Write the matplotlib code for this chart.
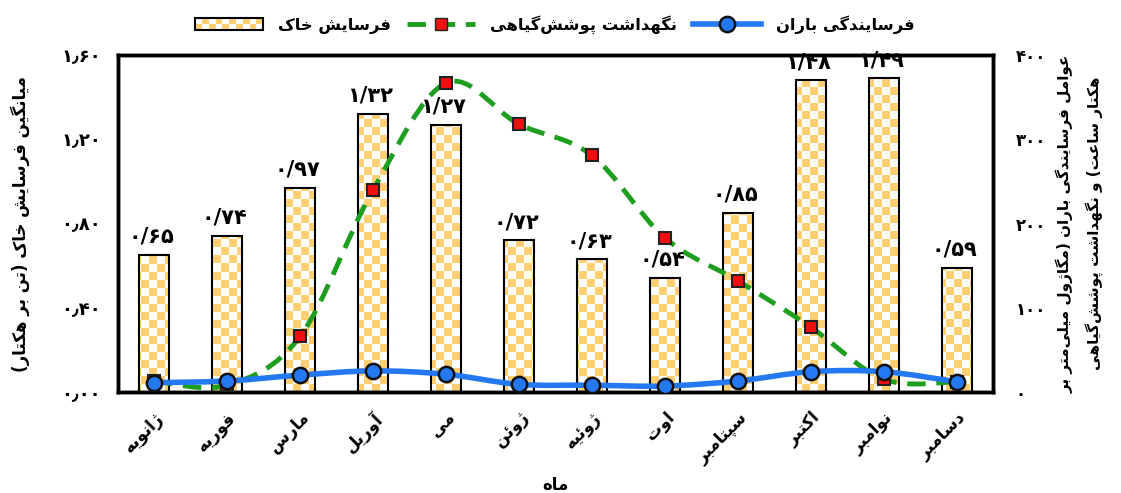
import numpy as np
import matplotlib
matplotlib.use('Agg')
import matplotlib.pyplot as plt
from matplotlib.colors import ListedColormap
from matplotlib.patches import Rectangle, PathPatch
from matplotlib.path import Path
from matplotlib.lines import Line2D
from matplotlib.legend_handler import HandlerBase

plt.rcParams['font.family'] = ['DejaVu Sans']
plt.rcParams['font.weight'] = 'bold'

months = ['ژانویه', 'فوریه', 'مارس', 'آوریل', 'می', 'ژوئن', 'ژوئیه', 'اوت',
          'سپتامبر', 'اکتبر', 'نوامبر', 'دسامبر']
soil_loss = [0.65, 0.74, 0.97, 1.32, 1.27, 0.72, 0.63, 0.54, 0.85, 1.48, 1.49, 0.59]
rain_erosivity = [11, 13, 20, 25, 21, 9, 8, 7, 13, 24, 24, 12]
cover_mgmt = [13, 8, 66, 240, 367, 318, 281, 183, 132, 77, 15, 12]
left_ticks = [0.0, 0.4, 0.8, 1.2, 1.6]
right_ticks = [0, 100, 200, 300, 400]

CHECK = '#FFCF72'
GREEN = '#1E9E1E'
BLUE = '#2479F2'

# minimal Persian shaping: (isolated, final, initial, medial)
FORMS = {
    'ا': ('\uFE8D', '\uFE8E', None, None), 'آ': ('\uFE81', '\uFE82', None, None),
    'ب': ('\uFE8F', '\uFE90', '\uFE91', '\uFE92'), 'پ': ('\uFB56', '\uFB57', '\uFB58', '\uFB59'),
    'ت': ('\uFE95', '\uFE96', '\uFE97', '\uFE98'), 'ث': ('\uFE99', '\uFE9A', '\uFE9B', '\uFE9C'),
    'ج': ('\uFE9D', '\uFE9E', '\uFE9F', '\uFEA0'), 'چ': ('\uFB7A', '\uFB7B', '\uFB7C', '\uFB7D'),
    'ح': ('\uFEA1', '\uFEA2', '\uFEA3', '\uFEA4'), 'خ': ('\uFEA5', '\uFEA6', '\uFEA7', '\uFEA8'),
    'د': ('\uFEA9', '\uFEAA', None, None), 'ذ': ('\uFEAB', '\uFEAC', None, None),
    'ر': ('\uFEAD', '\uFEAE', None, None), 'ز': ('\uFEAF', '\uFEB0', None, None),
    'ژ': ('\uFB8A', '\uFB8B', None, None),
    'س': ('\uFEB1', '\uFEB2', '\uFEB3', '\uFEB4'), 'ش': ('\uFEB5', '\uFEB6', '\uFEB7', '\uFEB8'),
    'ع': ('\uFEC9', '\uFECA', '\uFECB', '\uFECC'), 'ف': ('\uFED1', '\uFED2', '\uFED3', '\uFED4'),
    'ک': ('\uFB8E', '\uFB8F', '\uFB90', '\uFB91'), 'گ': ('\uFB92', '\uFB93', '\uFB94', '\uFB95'),
    'ل': ('\uFEDD', '\uFEDE', '\uFEDF', '\uFEE0'), 'م': ('\uFEE1', '\uFEE2', '\uFEE3', '\uFEE4'),
    'ن': ('\uFEE5', '\uFEE6', '\uFEE7', '\uFEE8'), 'ه': ('\uFEE9', '\uFEEA', '\uFEEB', '\uFEEC'),
    'و': ('\uFEED', '\uFEEE', None, None), 'ئ': ('\uFE89', '\uFE8A', '\uFE8B', '\uFE8C'),
    'ی': ('\uFBFC', '\uFBFD', '\uFBFE', '\uFBFF'),
}


def fa(text):
    out = []
    for i, c in enumerate(text):
        if c not in FORMS:
            if c != '\u200c':
                out.append(c)
            continue
        prev = text[i - 1] if i > 0 else None
        nxt = text[i + 1] if i + 1 < len(text) else None
        jp = prev in FORMS and FORMS[prev][2] is not None
        jn = nxt in FORMS and FORMS[c][2] is not None
        iso, fin, ini, med = FORMS[c]
        out.append(med if jp and jn else fin if jp else ini if jn else iso)
    return ''.join(out)[::-1].translate(str.maketrans('()', ')('))


def fa_num(s):
    return s.translate(str.maketrans('0123456789.', '۰۱۲۳۴۵۶۷۸۹٫'))


def smooth_path(xs, ys):
    pts = list(zip(xs, ys))
    verts = [pts[0]]
    codes = [Path.MOVETO]
    n = len(pts)
    for i in range(n - 1):
        p0 = pts[max(i - 1, 0)]
        p1 = pts[i]
        p2 = pts[i + 1]
        p3 = pts[min(i + 2, n - 1)]
        c1 = (p1[0] + (p2[0] - p0[0]) / 6, p1[1] + (p2[1] - p0[1]) / 6)
        c2 = (p2[0] - (p3[0] - p1[0]) / 6, p2[1] - (p3[1] - p1[1]) / 6)
        verts += [c1, c2, p2]
        codes += [Path.CURVE4] * 3
    return Path(verts, codes)


class HandlerChecker(HandlerBase):
    def create_artists(self, legend, orig_handle, xdescent, ydescent,
                       width, height, fontsize, trans):
        arts = []
        nx, ny = 10, 2
        cw, ch = width / nx, height / ny
        for i in range(nx):
            for j in range(ny):
                if (i + j) % 2 == 0:
                    arts.append(Rectangle((-xdescent + i * cw, -ydescent + j * ch), cw, ch,
                                          facecolor=CHECK, edgecolor='none', transform=trans))
        arts.append(Rectangle((-xdescent, -ydescent), width, height, facecolor='none',
                              edgecolor='black', lw=1.5, transform=trans))
        return arts


fig = plt.figure(figsize=(11.21, 4.93), dpi=100)
ax = fig.add_axes([0.105, 0.205, 0.781, 0.683])
ax2 = ax.twinx()

x = np.arange(len(months))
bars = ax.bar(x, soil_loss, width=0.41, facecolor='none', edgecolor='black',
              linewidth=1.5, zorder=3)

checker = np.indices((42, 110)).sum(axis=0) % 2
for b in bars:
    im = ax.imshow(checker, cmap=ListedColormap(['white', CHECK]), extent=[0, 1, 0, 1],
                   transform=ax.transAxes, aspect='auto', interpolation='nearest', zorder=2)
    im.set_clip_path(b)

ax.set_xlim(-0.5, len(months) - 0.5)
ax.set_ylim(0, 1.6)
ax2.set_ylim(0, 400)

ax2.add_patch(PathPatch(smooth_path(x, cover_mgmt), facecolor='none', edgecolor=GREEN,
                        linewidth=3.5, linestyle=(0, (3.8, 2.2)), zorder=3))
ax2.plot(x, cover_mgmt, linestyle='none', marker='s', markersize=8,
         markerfacecolor='#F01010', markeredgecolor='#222222', markeredgewidth=1.5, zorder=4)
ax2.add_patch(PathPatch(smooth_path(x, rain_erosivity), facecolor='none', edgecolor=BLUE,
                        linewidth=4, zorder=5))
ax2.plot(x, rain_erosivity, linestyle='none', marker='o', markersize=11,
         markerfacecolor=BLUE, markeredgecolor='#111111', markeredgewidth=1.8, zorder=6)

for xi, v in zip(x, soil_loss):
    ax2.annotate(fa_num(f'{v:.2f}').replace('٫', '/'), (xi, v), xycoords=ax.transData,
                 xytext=(-2, 6), textcoords='offset points', ha='center', va='bottom',
                 fontsize=15, fontweight='bold', zorder=10)

ax.set_yticks(left_ticks)
ax.set_yticklabels([fa_num(f'{t:.2f}') for t in left_ticks])
ax2.set_yticks(right_ticks)
ax2.set_yticklabels([fa_num(str(t)) for t in right_ticks])
ax.set_xticks(x)
ax.set_xticklabels([fa(m) for m in months], rotation=45, ha='right', rotation_mode='anchor')

ax.tick_params(axis='y', length=0, pad=12, labelsize=13)
ax2.tick_params(axis='y', length=0, pad=16, labelsize=12)
ax.tick_params(axis='x', length=0, pad=12, labelsize=12)

for a in (ax, ax2):
    for s in a.spines.values():
        s.set_linewidth(2.5)
        s.set_color('black')

ax.set_xlabel(fa('ماه'), fontsize=12, fontweight='bold')
ax.xaxis.set_label_coords(0.5, -0.25)
ax.set_ylabel(fa('میانگین فرسایش خاک (تن بر هکتار)'), fontsize=12, fontweight='bold')
ax.yaxis.set_label_coords(-0.10, 0.5)
ax2.set_ylabel(fa('عوامل فرسایندگی باران (مگاژول میلی‌متر بر') + '\n' +
               fa('هکتار ساعت) و نگهداشت پوشش‌گیاهی'),
               fontsize=11, fontweight='bold', rotation=90, linespacing=1.8)
ax2.yaxis.set_label_coords(1.072, 0.5)

h_bar = Rectangle((0, 0), 1, 1)
h_green = Line2D([], [], color=GREEN, lw=3.5, linestyle=(0, (3.8, 2.2)), marker='s',
                 markersize=8, markerfacecolor='#F01010', markeredgecolor='#222222')
h_blue = Line2D([], [], color=BLUE, lw=4, marker='o', markersize=11,
                markerfacecolor=BLUE, markeredgecolor='#111111', markeredgewidth=1.8)
fig.legend([h_bar, h_green, h_blue],
           [fa('فرسایش خاک'), fa('نگهداشت پوشش‌گیاهی'), fa('فرسایندگی باران')],
           handler_map={Rectangle: HandlerChecker()}, loc='center',
           bbox_to_anchor=(0.495, 0.95), ncol=3, frameon=False, fontsize=11.8,
           handlelength=4.15, handletextpad=0.9, columnspacing=1.0, numpoints=1)

fig.savefig('out.png', dpi=100)
